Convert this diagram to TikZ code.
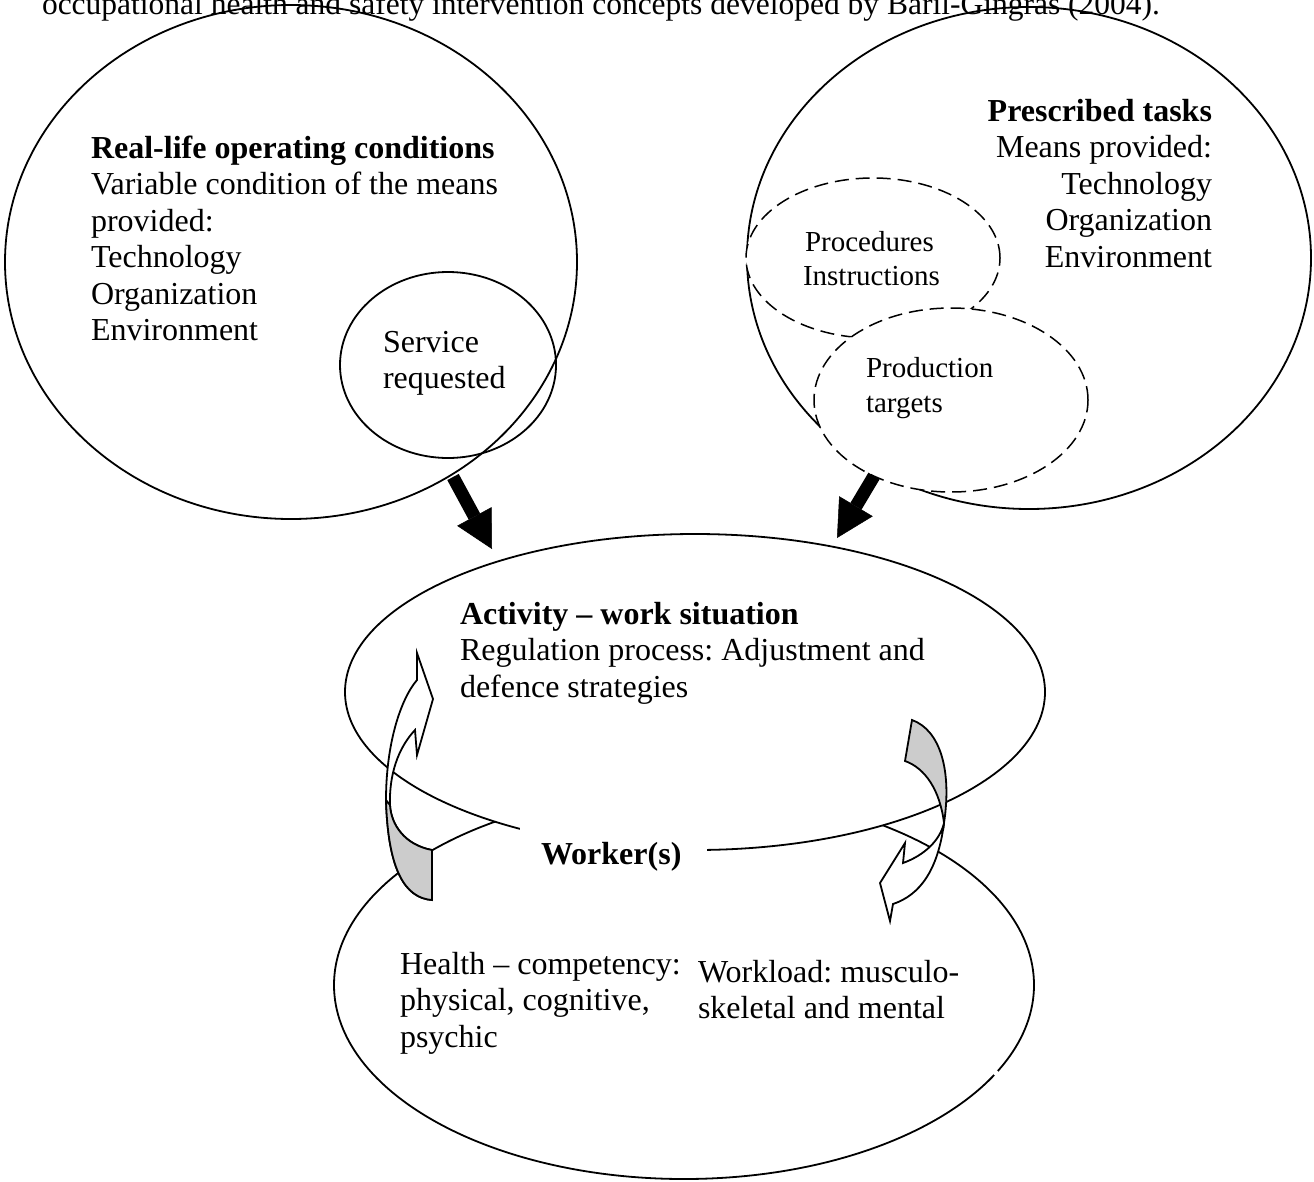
\documentclass[tikz,border=0pt]{standalone}
\usepackage{fontspec}
\setmainfont{Liberation Serif}
\usetikzlibrary{shapes.geometric,arrows.meta}
\begin{document}
\frenchspacing
\begin{tikzpicture}[x=1pt,y=-1pt,
  oval/.style={ellipse, draw, line width=1.8pt, inner sep=0pt, outer sep=0pt},
  whiteoval/.style={oval, fill=white},
  dashoval/.style={oval, fill=white, line width=1.5pt, dash pattern=on 14pt off 7pt},
  body/.style={inner sep=0pt, outer sep=0pt, font=\fontsize{32}{36.5}\selectfont},
  bodybold/.style={inner sep=0pt, outer sep=0pt, font=\fontsize{32}{36.5}\selectfont\bfseries},
  small/.style={inner sep=0pt, outer sep=0pt, font=\fontsize{29}{33}\selectfont},
  blockarrow/.style={line width=13pt, -{Triangle[width=39pt,length=37pt,line width=0.5pt]}},
  ribbon/.style={draw, line width=1.8pt, line join=miter},
  backface/.style={fill=black!20},
]
\useasboundingbox (0,0) rectangle (1314,1181);
\clip (0,0) rectangle (1314,1181);

% ---- upper left: real-life operating conditions
\node[oval, minimum width=572pt, minimum height=514pt] (reallife) at (291,262) {};
\node[oval, minimum width=216pt, minimum height=186pt] (service) at (448,365) {};

% ---- upper right: prescribed tasks
\node[oval, minimum width=564pt, minimum height=502pt] (prescribed) at (1029,258) {};
\node[dashoval, minimum width=254pt, minimum height=160pt] (proc) at (873,258) {};
\node[dashoval, minimum width=274pt, minimum height=184pt] (prod) at (951,400) {};

% ---- caption line running off the top edge
\node[inner sep=0pt, outer sep=0pt, font=\fontsize{31.5}{36}\selectfont, anchor=base west] (caption) at (42,14)
  {occupational health and safety intervention concepts developed by Baril-Gingras (2004).};

% ---- lower ovals: worker under the activity
\node[whiteoval, minimum width=700pt, minimum height=388pt] (worker) at (684,985) {};
\node[whiteoval, minimum width=700pt, minimum height=316pt] (activity) at (695,692) {};
\node[fill=white, inner sep=0pt, outer sep=0pt, minimum width=187pt, minimum height=85pt,
      anchor=north west] (workerbox) at (520,805) {};
% small break in the worker outline
\draw[white, line width=4.5pt] (994.3,1074.9) -- (997.7,1071.1);

% ---- texts
\node[bodybold, anchor=base west] (rl0) at (91,158) {Real-life operating conditions};
\foreach \t [count=\i] in {Variable condition of the means, provided:, Technology, Organization, Environment}
  \node[body, anchor=base west] (rl\i) at (91,158+36.5*\i) {\t};

\node[body, anchor=base west] (sv1) at (383,352) {Service};
\node[body, anchor=base west] (sv2) at (383,388) {requested};

\node[bodybold, anchor=base east] (pt0) at (1212,121) {Prescribed tasks};
\foreach \t [count=\i] in {Means provided:, Technology, Organization, Environment}
  \node[body, anchor=base east] (pt\i) at (1212,121+36.5*\i) {\t};

\node[small, anchor=base west] (pr1) at (805,251) {Procedures};
\node[small, anchor=base west] (pr2) at (803,285) {Instructions};
\node[small, anchor=base west] (pd1) at (866,377) {Production};
\node[small, anchor=base west] (pd2) at (866,412) {targets};

\node[bodybold, anchor=base west] (ac0) at (460,624) {Activity -- work situation};
\node[body, anchor=base west] (ac1) at (460,660.5) {Regulation process: Adjustment and};
\node[body, anchor=base west] (ac2) at (460,697) {defence strategies};

\node[bodybold, anchor=base west] (wk0) at (541,864) {Worker(s)};
\node[body, anchor=base west] (hc1) at (400,974) {Health -- competency:};
\node[body, anchor=base west] (hc2) at (400,1010.5) {physical, cognitive,};
\node[body, anchor=base west] (hc3) at (400,1047) {psychic};
\node[body, anchor=base west] (wl1) at (698,982) {Workload: musculo-};
\node[body, anchor=base west] (wl2) at (698,1018.5) {skeletal and mental};

% ---- black block arrows into the activity
\coordinate (ltail) at (453,477);
\coordinate (ltip) at (492,549);
\coordinate (rtail) at (874,476);
\coordinate (rtip) at (837,538);
\draw[blockarrow] (ltail) -- (ltip);
\draw[blockarrow] (rtail) -- (rtip);

% ---- left twisted ribbon arrow (front face white, back face grey)
\path[ribbon, fill=white] (417,653) -- (433,699) -- (417,755) -- (415,730)
  .. controls (398,748) and (389,775) .. (390,805)
  .. controls (391,825) and (405,845) .. (432,850)
  -- (432,900)
  .. controls (405,898) and (388,870) .. (386,800)
  .. controls (386,745) and (400,700) .. (417,680) -- cycle;
\path[ribbon, backface] (390,805)
  .. controls (391,825) and (405,845) .. (432,850)
  -- (432,900)
  .. controls (405,898) and (388,870) .. (386,800) -- cycle;

% ---- right twisted ribbon arrow
\path[ribbon, backface] (912,720)
  .. controls (940,730) and (952,770) .. (944,823)
  .. controls (940,790) and (925,768) .. (905,761) -- cycle;
\path[ribbon, fill=white] (944,823)
  .. controls (938,870) and (920,895) .. (893,904)
  -- (890,921) -- (880,883) -- (905,843) -- (903,863)
  .. controls (925,855) and (940,840) .. (944,823) -- cycle;
\end{tikzpicture}
\end{document}
